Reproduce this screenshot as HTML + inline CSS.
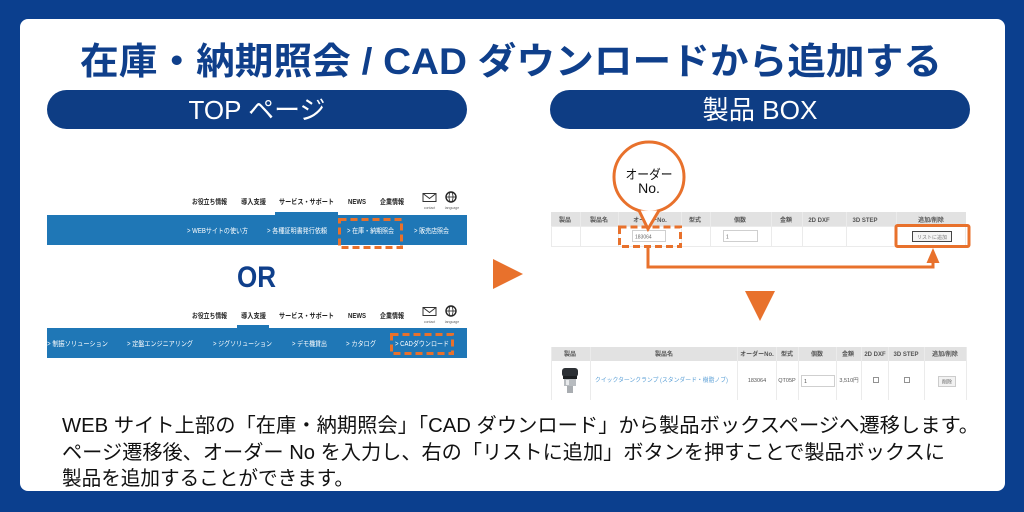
<!DOCTYPE html>
<html>
<head>
<meta charset="utf-8">
<style>
html,body{margin:0;padding:0;background:#0b3f8e;}
svg{display:block;}
text{font-family:"Liberation Sans","Noto Sans CJK JP",sans-serif;}
</style>
</head>
<body>
<svg width="1024" height="512" viewBox="0 0 1024 512" xmlns="http://www.w3.org/2000/svg">
  <rect x="0" y="0" width="1024" height="512" fill="#0b3f8e"/>
  <rect x="20" y="19" width="985" height="472" rx="8" fill="#ffffff"/>

  <!-- Title -->
  <text x="511" y="74" text-anchor="middle" font-size="37" font-weight="bold" fill="#0f3f8b" textLength="862" lengthAdjust="spacingAndGlyphs">在庫・納期照会 / CAD ダウンロードから追加する</text>

  <!-- Pills -->
  <rect x="47" y="90" width="420" height="39" rx="19.5" fill="#0e3d84"/>
  <text x="257" y="119" text-anchor="middle" font-size="26" fill="#ffffff" textLength="137" lengthAdjust="spacingAndGlyphs">TOP ページ</text>
  <rect x="550" y="90" width="420" height="39" rx="19.5" fill="#0e3d84"/>
  <text x="760" y="119" text-anchor="middle" font-size="26" fill="#ffffff" textLength="115" lengthAdjust="spacingAndGlyphs">製品 BOX</text>

  <!-- ===== Screenshot 1 ===== -->
  <g font-size="7" font-weight="bold" fill="#222">
    <text x="192" y="204" textLength="35" lengthAdjust="spacingAndGlyphs">お役立ち情報</text>
    <text x="241" y="204" textLength="25" lengthAdjust="spacingAndGlyphs">導入支援</text>
    <text x="279" y="204" textLength="55" lengthAdjust="spacingAndGlyphs">サービス・サポート</text>
    <text x="348" y="204" textLength="18" lengthAdjust="spacingAndGlyphs">NEWS</text>
    <text x="380" y="204" textLength="24" lengthAdjust="spacingAndGlyphs">企業情報</text>
  </g>
  <rect x="423" y="193.5" width="13" height="8" fill="none" stroke="#333" stroke-width="1"/>
  <polyline points="423,193.5 429.5,198.5 436,193.5" fill="none" stroke="#333" stroke-width="1"/>
  <circle cx="451" cy="197" r="5" fill="none" stroke="#222" stroke-width="1.4"/>
  <line x1="446" y1="197" x2="456" y2="197" stroke="#222" stroke-width="0.8"/>
  <ellipse cx="451" cy="197" rx="2" ry="5" fill="none" stroke="#222" stroke-width="0.8"/>
  <text x="429.5" y="209" text-anchor="middle" font-size="3.5" fill="#666">contact</text>
  <text x="452" y="209" text-anchor="middle" font-size="3.5" fill="#666">language</text>

  <rect x="275" y="212" width="63" height="3" fill="#1f77b6"/>
  <rect x="47" y="215" width="420" height="30" fill="#1f77b6"/>
  <g font-size="7" fill="#ffffff">
    <text x="187" y="233" textLength="61" lengthAdjust="spacingAndGlyphs">&gt; WEBサイトの使い方</text>
    <text x="267" y="233" textLength="60" lengthAdjust="spacingAndGlyphs">&gt; 各種証明書発行依頼</text>
    <text x="347" y="233" textLength="47" lengthAdjust="spacingAndGlyphs">&gt; 在庫・納期照会</text>
    <text x="414" y="233" textLength="35" lengthAdjust="spacingAndGlyphs">&gt; 販売店照会</text>
  </g>
  <rect x="339.5" y="219.5" width="62" height="28" fill="none" stroke="#e8712c" stroke-width="3" stroke-dasharray="7 4"/>

  <!-- OR -->
  <text x="256.5" y="287" text-anchor="middle" font-size="30" font-weight="bold" fill="#0f3f8b" textLength="39" lengthAdjust="spacingAndGlyphs">OR</text>

  <!-- ===== Screenshot 2 ===== -->
  <g font-size="7" font-weight="bold" fill="#222">
    <text x="192" y="318" textLength="35" lengthAdjust="spacingAndGlyphs">お役立ち情報</text>
    <text x="241" y="318" textLength="25" lengthAdjust="spacingAndGlyphs">導入支援</text>
    <text x="279" y="318" textLength="55" lengthAdjust="spacingAndGlyphs">サービス・サポート</text>
    <text x="348" y="318" textLength="18" lengthAdjust="spacingAndGlyphs">NEWS</text>
    <text x="380" y="318" textLength="24" lengthAdjust="spacingAndGlyphs">企業情報</text>
  </g>
  <rect x="423" y="307.5" width="13" height="8" fill="none" stroke="#333" stroke-width="1"/>
  <polyline points="423,307.5 429.5,312.5 436,307.5" fill="none" stroke="#333" stroke-width="1"/>
  <circle cx="451" cy="311" r="5" fill="none" stroke="#222" stroke-width="1.4"/>
  <line x1="446" y1="311" x2="456" y2="311" stroke="#222" stroke-width="0.8"/>
  <ellipse cx="451" cy="311" rx="2" ry="5" fill="none" stroke="#222" stroke-width="0.8"/>
  <text x="429.5" y="323" text-anchor="middle" font-size="3.5" fill="#666">contact</text>
  <text x="452" y="323" text-anchor="middle" font-size="3.5" fill="#666">language</text>

  <rect x="237" y="325" width="32" height="3" fill="#1f77b6"/>
  <rect x="47" y="328" width="420" height="30" fill="#1f77b6"/>
  <g font-size="7" fill="#ffffff">
    <text x="47" y="346" textLength="61" lengthAdjust="spacingAndGlyphs">&gt; 制振ソリューション</text>
    <text x="127" y="346" textLength="66" lengthAdjust="spacingAndGlyphs">&gt; 定盤エンジニアリング</text>
    <text x="213" y="346" textLength="59" lengthAdjust="spacingAndGlyphs">&gt; ジグソリューション</text>
    <text x="292" y="346" textLength="35" lengthAdjust="spacingAndGlyphs">&gt; デモ機貸出</text>
    <text x="346" y="346" textLength="30" lengthAdjust="spacingAndGlyphs">&gt; カタログ</text>
    <text x="395" y="346" textLength="54" lengthAdjust="spacingAndGlyphs">&gt; CADダウンロード</text>
  </g>
  <rect x="391.5" y="334.5" width="61" height="19" fill="none" stroke="#e8712c" stroke-width="3" stroke-dasharray="7 4"/>

  <!-- Arrows between -->
  <polygon points="493,259 493,289 523,274" fill="#e8712c"/>
  <polygon points="745,291 775,291 760,321" fill="#e8712c"/>

  <!-- ===== Top table (right) ===== -->
  <rect x="551" y="212" width="415" height="14" fill="#e2e2e2"/>
  <rect x="551.5" y="226.5" width="414" height="20" fill="#ffffff" stroke="#ebebeb" stroke-width="1"/>
  <g stroke="#ebebeb" stroke-width="1">
    <line x1="580.5" y1="212" x2="580.5" y2="247"/>
    <line x1="618.5" y1="212" x2="618.5" y2="247"/>
    <line x1="681.5" y1="212" x2="681.5" y2="247"/>
    <line x1="710.5" y1="212" x2="710.5" y2="247"/>
    <line x1="771.5" y1="212" x2="771.5" y2="247"/>
    <line x1="802.5" y1="212" x2="802.5" y2="247"/>
    <line x1="846.5" y1="212" x2="846.5" y2="247"/>
    <line x1="896.5" y1="212" x2="896.5" y2="247"/>
  </g>
  <g font-size="6" font-weight="bold" fill="#555" text-anchor="middle">
    <text x="565" y="222">製品</text>
    <text x="599" y="222">製品名</text>
    <text x="650" y="222">オーダーNo.</text>
    <text x="695" y="222">型式</text>
    <text x="740" y="222">個数</text>
    <text x="786" y="222">金額</text>
    <text x="819" y="222">2D DXF</text>
    <text x="865" y="222">3D STEP</text>
    <text x="931" y="222">追加/削除</text>
  </g>
  <rect x="632.5" y="230.5" width="33" height="11" fill="#fff" stroke="#cfcfcf" stroke-width="1"/>
  <text x="635" y="238.5" font-size="5" fill="#666">183064</text>
  <rect x="723.5" y="230.5" width="34" height="11" fill="#fff" stroke="#cfcfcf" stroke-width="1"/>
  <text x="726" y="238.5" font-size="5" fill="#666">1</text>
  <rect x="912.5" y="231.5" width="39" height="10" fill="#f4f4f4" stroke="#444" stroke-width="1"/>
  <text x="932" y="238.8" font-size="5" fill="#777" text-anchor="middle">リストに追加</text>

  <!-- Orange highlight boxes -->
  <rect x="896" y="225.5" width="73" height="21" rx="1.5" fill="none" stroke="#e8712c" stroke-width="3"/>
  <rect x="619.5" y="227" width="61" height="19.5" fill="none" stroke="#e8712c" stroke-width="3" stroke-dasharray="7 4"/>

  <!-- Connector -->
  <polyline points="648,248 648,267 933,267 933,260" fill="none" stroke="#e8712c" stroke-width="3"/>
  <polygon points="926.5,263 939.5,263 933,248" fill="#e8712c"/>

  <!-- Speech bubble -->
  <circle cx="649" cy="177" r="35" fill="#ffffff" stroke="#e8712c" stroke-width="3"/>
  <path d="M639,210.5 L648,229 L659,210.5" fill="#ffffff" stroke="#e8712c" stroke-width="3" stroke-linejoin="miter"/>
  <text x="649" y="179" text-anchor="middle" font-size="13" fill="#111" textLength="47" lengthAdjust="spacingAndGlyphs">オーダー</text>
  <text x="649" y="193" text-anchor="middle" font-size="14" fill="#111">No.</text>

  <!-- ===== Bottom table (right) ===== -->
  <rect x="551" y="347" width="415" height="14" fill="#e2e2e2"/>
  <rect x="551" y="361" width="415" height="39" fill="#ffffff"/>
  <g stroke="#ebebeb" stroke-width="1">
    <line x1="551.5" y1="347" x2="551.5" y2="400"/>
    <line x1="590.5" y1="347" x2="590.5" y2="400"/>
    <line x1="737.5" y1="347" x2="737.5" y2="400"/>
    <line x1="776.5" y1="347" x2="776.5" y2="400"/>
    <line x1="798.5" y1="347" x2="798.5" y2="400"/>
    <line x1="836.5" y1="347" x2="836.5" y2="400"/>
    <line x1="861.5" y1="347" x2="861.5" y2="400"/>
    <line x1="888.5" y1="347" x2="888.5" y2="400"/>
    <line x1="924.5" y1="347" x2="924.5" y2="400"/>
    <line x1="966.5" y1="347" x2="966.5" y2="400"/>
  </g>
  <g font-size="6" font-weight="bold" fill="#555" text-anchor="middle">
    <text x="570" y="356">製品</text>
    <text x="664" y="356">製品名</text>
    <text x="757" y="356">オーダーNo.</text>
    <text x="787" y="356">型式</text>
    <text x="817" y="356">個数</text>
    <text x="848" y="356">金額</text>
    <text x="875" y="356">2D DXF</text>
    <text x="906" y="356">3D STEP</text>
    <text x="945" y="356">追加/削除</text>
  </g>
  <rect x="562" y="368" width="16" height="9" rx="3" fill="#2c3035"/>
  <rect x="563" y="376" width="14" height="3" fill="#1c1f22"/>
  <rect x="564" y="379" width="12" height="7" fill="#b8bcc0"/>
  <rect x="566" y="380" width="3" height="5" fill="#e8eaec"/>
  <rect x="567" y="386" width="6" height="7" fill="#a9adb1"/>
  <text x="595" y="382" font-size="6" fill="#5a9fd6" textLength="133" lengthAdjust="spacingAndGlyphs">クイックターンクランプ (スタンダード・樹脂ノブ)</text>
  <text x="757" y="382" font-size="5.5" fill="#555" text-anchor="middle">183064</text>
  <text x="787" y="382" font-size="5.5" fill="#555" text-anchor="middle">QT05P</text>
  <rect x="801.5" y="375.5" width="33" height="11" fill="#fff" stroke="#cfcfcf" stroke-width="1"/>
  <text x="804" y="383" font-size="5.5" fill="#555">1</text>
  <text x="849" y="382" font-size="5.5" fill="#555" text-anchor="middle">3,510円</text>
  <rect x="873.5" y="377.5" width="5" height="5" fill="#fff" stroke="#777" stroke-width="0.8"/>
  <rect x="904.5" y="377.5" width="5" height="5" fill="#fff" stroke="#777" stroke-width="0.8"/>
  <rect x="938.5" y="376.5" width="17" height="10" fill="#f2f2f2" stroke="#ccc" stroke-width="1"/>
  <text x="947" y="383.5" font-size="5" fill="#666" text-anchor="middle">削除</text>

  <!-- Bottom paragraph -->
  <g font-size="20" fill="#111">
    <text x="62" y="432" textLength="917" lengthAdjust="spacingAndGlyphs">WEB サイト上部の「在庫・納期照会」「CAD ダウンロード」から製品ボックスページへ遷移します。</text>
    <text x="62" y="459" textLength="883" lengthAdjust="spacingAndGlyphs">ページ遷移後、オーダー No を入力し、右の「リストに追加」ボタンを押すことで製品ボックスに</text>
    <text x="62" y="485" textLength="292" lengthAdjust="spacingAndGlyphs">製品を追加することができます。</text>
  </g>
</svg>
</body>
</html>
